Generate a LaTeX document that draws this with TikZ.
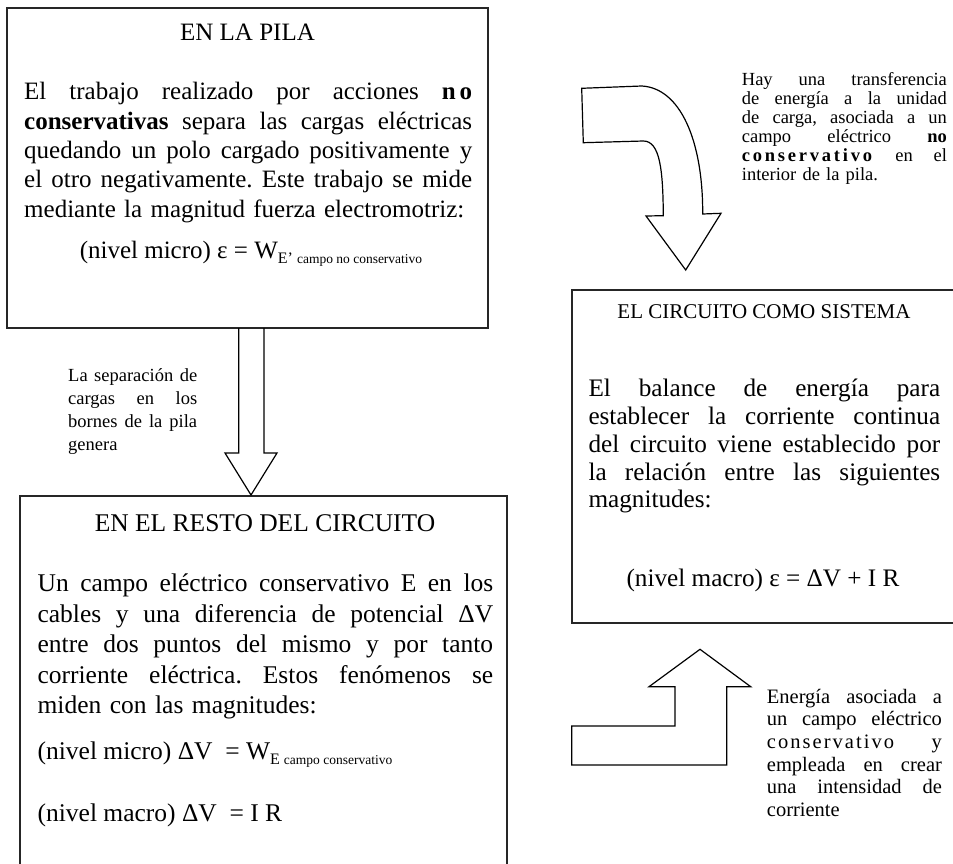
\documentclass[tikz,border=0pt]{standalone}
\usepackage{fontspec}
\setmainfont{Liberation Serif}
\frenchspacing
\newcommand\jl[1]{{\spaceskip=0pt\xspaceskip=0pt\makebox[\hsize][s]{#1}}}
\newcommand\fs[2]{\fontsize{#1}{#2}\selectfont}
\newcommand\lsp[2]{{\addfontfeatures{LetterSpace=#1}#2}}
\begin{document}
\begin{tikzpicture}[x=1pt,y=-1pt,
  box/.style={draw=black!85, line width=1.6pt, inner sep=0pt, outer sep=0pt, anchor=north west},
  blk/.style={draw=black, line width=1.2pt, line join=miter},
  para/.style={anchor=base west, inner sep=0pt, align=left},
  ttl/.style={anchor=base, inner sep=0pt}]
\useasboundingbox (0,0) rectangle (953,864);
\fill[white] (0,0) rectangle (953,864);

% boxes
\node[box, minimum width=481pt, minimum height=320pt] (pila) at (7,8) {};
\node[box, minimum width=487pt, minimum height=420pt] (resto) at (20,496) {};
\node[box, minimum width=420pt, minimum height=333pt] (sist) at (572,290) {};

% box 1
\node[ttl, font=\fs{25}{29}] (t1) at (247.5,41) {EN LA PILA};
\node[para, text width=448pt, font=\fs{25}{29.3}] (b1) at (24,100) {%
\jl{El trabajo realizado por acciones \textbf{n\kern4pt o}}\\
\jl{\textbf{conservativas} separa las cargas eléctricas}\\
\jl{quedando un polo cargado positivamente y}\\
\jl{el otro negativamente. Este trabajo se mide}\\
mediante la magnitud fuerza electromotriz:};
\node[ttl, font=\fs{25}{29}] (e1) at (251,258) {(nivel micro) ε = W\raisebox{-5pt}{\fs{16}{16}E’ \fs{13.5}{14}campo no conservativo}};

% box 2
\node[ttl, font=\fs{25.5}{30}] (t2) at (265,531) {EN EL RESTO DEL CIRCUITO};
\node[para, text width=455.6pt, font=\fs{25.5}{30.6}] (b2) at (37.4,591.5) {%
\jl{Un campo eléctrico conservativo E en los}\\
\jl{cables y una diferencia de potencial ΔV}\\
\jl{entre dos puntos del mismo y por tanto}\\
\jl{corriente eléctrica. Estos fenómenos se}\\
miden con las magnitudes:};
\node[para, font=\fs{25.5}{30}] (e2) at (37.4,759.4) {(nivel micro) ΔV\ \ = W\raisebox{-5pt}{\fs{16}{16}E \fs{13.5}{14}campo conservativo}};
\node[para, font=\fs{25.5}{30}] (e3) at (37.4,821.7) {(nivel macro) ΔV\ \ = I R};

% box 3
\node[ttl, font=\fs{21}{25}] (t3) at (764,318) {EL CIRCUITO COMO SISTEMA};
\node[para, text width=351.7pt, font=\fs{25.2}{27.8}] (b3) at (588.3,396.7) {%
\jl{El balance de energía para}\\
\jl{establecer la corriente continua}\\
\jl{del circuito viene establecido por}\\
\jl{la relación entre las siguientes}\\
magnitudes:};
\node[ttl, font=\fs{25.2}{28}] (e4) at (763,586.7) {(nivel macro) ε = ΔV + I R};

% labels
\node[para, text width=205pt, font=\fs{18.5}{19}] (l1) at (741.7,86) {%
\jl{Hay una transferencia}\\
\jl{de energía a la unidad}\\
\jl{de carga, asociada a un}\\
\jl{campo eléctrico \textbf{no}}\\
\jl{\textbf{\lsp{15}{conservativo}} en el}\\
interior de la pila.};
\node[para, text width=129pt, font=\fs{18.5}{23}] (l2) at (68,381) {%
\jl{La separación de}\\
\jl{cargas en los}\\
\jl{bornes de la pila}\\
genera};
\node[para, text width=175pt, font=\fs{20.5}{22.7}] (l3) at (766.7,703) {%
\jl{Energía asociada a}\\
\jl{un campo eléctrico}\\
\jl{\lsp{10}{conservativo} y}\\
\jl{empleada en crear}\\
\jl{una intensidad de}\\
corriente};

% block arrows
\draw[blk] (238.7,328) -- (238.7,453) -- (225,453) -- (251,495) -- (277,453) -- (264,453) -- (264,328);
\draw[blk] (581.7,88.3) -- (641.7,86) .. controls (680,88) and (703,140) .. (702.7,214)
  -- (721,213.3) -- (685.7,270) -- (646,216) -- (663.3,215.7)
  .. controls (663,170) and (660,141) .. (643.3,141) -- (583.3,142.7) -- cycle;
\draw[blk] (571.7,726) -- (675,726) -- (675,686.7) -- (649,686.7) -- (700,649.3)
  -- (750.7,686.7) -- (726.7,686.7) -- (726.7,765) -- (571.7,765) -- cycle;
\end{tikzpicture}
\end{document}
